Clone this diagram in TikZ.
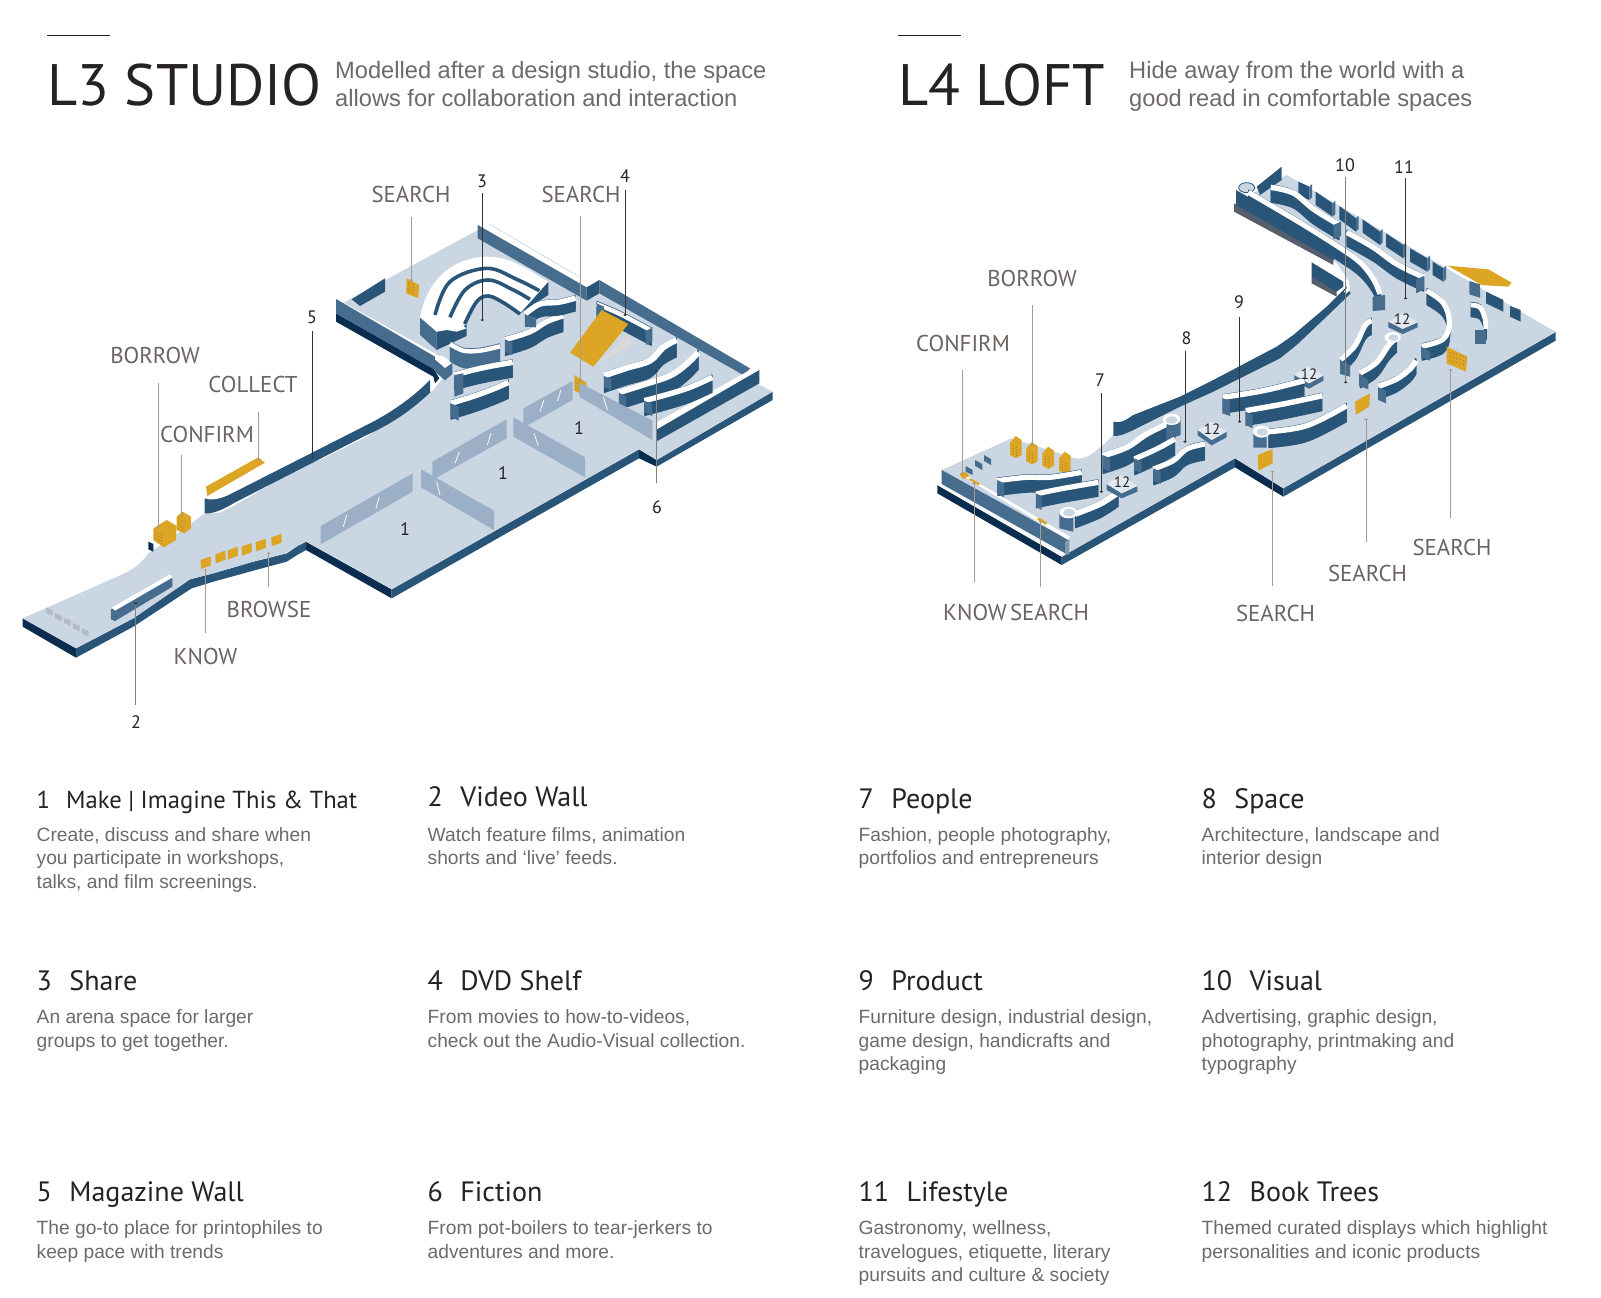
\documentclass[tikz,border=0pt]{standalone}
\usepackage{fontspec}
\setmainfont{Liberation Sans}
\newfontfamily\myr{PT Sans}
\usetikzlibrary{calc}
\definecolor{flr}{HTML}{CBD6E3}
\definecolor{navy}{HTML}{0A2D4F}
\definecolor{wallmid}{HTML}{285578}
\definecolor{walllt}{HTML}{466C8E}
\definecolor{gold}{HTML}{DCA624}
\definecolor{glass}{HTML}{9BB0C6}
\definecolor{labc}{HTML}{6B6461}
\definecolor{txtc}{HTML}{6E6A67}
\definecolor{inkc}{HTML}{262122}
\definecolor{dith}{HTML}{555F6B}
\definecolor{leadlt}{HTML}{A89A8E}
\definecolor{screenc}{HTML}{B2BAC2}
\tikzset{
 x=1pt,y=-1pt,
 plane/.style={fill=flr,draw=none},
 plinthtop/.style={fill=white!45!flr,draw=none},
 mid/.style={fill=wallmid,draw=none},
 lt/.style={fill=walllt,draw=none},
 nav/.style={fill=navy,draw=none},
 au/.style={fill=gold,draw=none},
 glasspane/.style={fill=glass,draw=none},
 tick/.style={draw=white!85!glass,line width=.9pt},
 lab/.style={font=\myr\fontsize{22.9}{25}\selectfont,text=labc,inner sep=0pt},
 numlab/.style={font=\myr\fontsize{18}{20}\selectfont,text=inkc,inner sep=0pt},
 numsm/.style={font=\myr\fontsize{15}{17}\selectfont,text=inkc,inner sep=0pt},
 title/.style={font=\myr\fontsize{58.5}{60}\selectfont,text=inkc,inner sep=0pt,anchor=base west},
 head/.style={font=\myr\fontsize{28}{32}\selectfont,text=inkc,inner sep=0pt,anchor=base west},
 headsm/.style={font=\myr\fontsize{24.6}{30}\selectfont,text=inkc,inner sep=0pt,anchor=base west},
 desc/.style={font=\fontsize{19.2}{23.4}\selectfont,text=txtc,inner sep=0pt,anchor=north west,align=left},
 subt/.style={font=\fontsize{23.65}{28}\selectfont,text=txtc,inner sep=0pt,anchor=north west,align=left},
 leaddk/.style={draw=black!80,line width=.7pt},
 leadlight/.style={draw=leadlt,line width=.8pt},
 rulel/.style={draw=inkc,line width=1pt},
}
% extruded curved wall: [face colour]{height}{top width}{points}
\newcommand\wallx[4][wallmid]{%
 \pgfmathsetmacro\hgt{#2+8}%
 \foreach \d in {0,3,...,\hgt}{\draw[#1,line width=1.6pt,shift={(0,\d)}] plot[smooth,tension=.6] coordinates{#4};}
 \draw[white,line width=#3*1.3pt,shift={(0,7)}] plot[smooth,tension=.6] coordinates{#4};}
\newcommand\lead[6]{% name,style,x,y1,y2,dot colour
 \coordinate (#1-a) at (#3,#4);\coordinate (#1-b) at (#3,#5);
 \draw[#2] (#1-a) -- (#1-b);
 \fill[#6] (#1-b) ellipse (5.4 and 3.3);}
\newcommand\hd[5]{\node[head] (#1) at (#2,#3) {#4\hspace{17.5pt}#5};}
\newcommand\ds[4]{\node[desc] (#1) at (#2,{#3-16.38}) {\strut #4};}
\newcommand\dotsgold[2]{\foreach \i in {0,1,2}{\foreach \j in {0,1,2,3}{\fill[black!70] ({#1+\i*8},{#2+\j*9+\i*3}) circle (1.1);}}}
\begin{document}
\begin{tikzpicture}
\useasboundingbox (0,0) rectangle (1601,1298);
\fill[white] (0,0) rectangle (1601,1298);
% ---------- titles ----------
\coordinate (r1a) at (47,36);\coordinate (r1b) at (110,36);\draw[rulel] (r1a)--(r1b);
\coordinate (r2a) at (898,36);\coordinate (r2b) at (961,36);\draw[rulel] (r2a)--(r2b);
\node[title] (t3) at (47,106) {L3 STUDIO};
\node[title] (t4) at (898,106) {L4 LOFT};
\node[subt] (s3) at (335,{78-19.6}) {\strut Modelled after a design studio, the space\\allows for collaboration and interaction};
\node[subt] (s4) at (1129,{78-19.6}) {\strut Hide away from the world with a\\good read in comfortable spaces};
% ---------- L3 map : corridor (zoom 1 frame) ----------
\begin{scope}[shift={(0,340)},scale=1/3]
 \fill[navy] (68,835)--(228,925)--(228,953)--(68,860)--cycle;
 \fill[wallmid] (228,925)--(400,835)--(570,718)--(640,700)--(760,665)--(860,640)--(915,603)--(915,630)--(860,665)--(760,692)--(640,725)--(575,745)--(400,860)--(228,953)--cycle;
 \fill[plane] (68,835)--(228,925)--(400,835)--(570,718)--(640,700)--(760,665)--(860,640)--(915,603)--(1000,650)--(1000,360)--(940,360)--(700,498)--(660,518)--(614,520)--(540,575)--(445,640) .. controls (420,675) and (400,690) .. (340,715)--cycle;
 \fill[navy] (445,605)--(460,612)--(460,635)--(445,628)--cycle;
 % video wall
 \fill[walllt] (333,808)--(517,712)--(517,740)--(345,843)--(333,838)--cycle;
 \fill[white] (335,803)--(510,703)--(518,712)--(345,812)--cycle;
 % floor screens
 \foreach \p in {(148,813),(175,829),(202,843),(229,859),(256,875)}{\fill[screenc] \p ++(-10,-10) -- ++(20,8) -- ++(0,16) -- ++(-20,-8) -- cycle;}
 % gold
 \fill[au] (618,440)--(775,352)--(795,368)--(622,468)--cycle;
 \fill[au] (460,565)--(500,540)--(530,558)--(528,600)--(492,622)--(460,600)--cycle;
 \fill[au] (530,530)--(548,515)--(573,530)--(573,565)--(553,580)--(530,570)--cycle;
 \foreach \p in {(618,665),(662,648),(699,636),(741,625),(783,612),(830,597)}{\fill[au] \p ++(-16,-5) -- ++(30,-11) -- ++(1,27) -- ++(-30,11) -- cycle;}
 \dotsgold{468}{578}\dotsgold{536}{540}
 % leaders
 \lead{dBorrow}{leadlight}{475}{128}{562}{leadlt}
 \lead{dConfirm}{leadlight}{545}{345}{525}{leadlt}
 \lead{dCollect}{leadlight}{776}{215}{360}{leadlt}
 \lead{d2}{draw=gray,line width=1pt}{407}{1095}{790}{black!80}
 \lead{dKnow}{leadlight}{616}{880}{690}{leadlt}
 \lead{dBrowse}{leadlight}{806}{740}{640}{leadlt}
\end{scope}
% ---------- L3 map : room (zoom 2 frame) ----------
\begin{scope}[shift={(300,200)},scale=1/3]
 \fill[navy] (18,1025)--(275,1168)--(275,1195)--(18,1050)--cycle;
 \fill[wallmid] (275,1168)--(1017,748)--(1017,775)--(275,1195)--cycle;
 \fill[navy] (1017,748)--(1070,780)--(1070,800)--(1017,775)--cycle;
 \fill[wallmid] (1070,780)--(1418,575)--(1418,600)--(1070,800)--cycle;
 \fill[wallmid] (0,1035)--(18,1025)--(18,1050)--(0,1060)--cycle;
 \fill[plane] (0,1035)--(18,1025)--(275,1168)--(1017,748)--(1070,780)--(1418,575)--(1378,555)--(1350,510)--(898,242)--(860,280)--(530,92)--(108,320)--(440,520)--(400,570)--(330,620)--(200,710)--(0,810)--cycle;
 % corridor wall band
 \begin{scope}[shift={(-900,420)}]
 \fill[wallmid] (614,475) .. controls (630,482) and (660,480) .. (700,458) -- (1100,255) .. controls (1180,215) and (1240,170) .. (1290,120) -- (1290,158) .. controls (1240,205) and (1180,250) .. (1100,285) -- (700,490) .. controls (660,515) and (630,522) .. (614,520) -- cycle;
 \end{scope}
 % back walls
 \fill[walllt] (533,75)--(860,262)--(860,302)--(533,115)--cycle;
 \fill[wallmid] (860,262)--(898,240)--(898,280)--(860,302)--cycle;
 \fill[walllt] (898,240)--(1350,505)--(1330,525)--(898,280)--cycle;
 \coordinate (pale1) at (568,72);\coordinate (pale2) at (840,232);
 \draw[flr,line width=.7pt] (pale1)--(pale2);
 % end wall
 \fill[white] (1068,668)--(1350,510)--(1378,510)--(1068,690)--cycle;
 \fill[wallmid] (1068,690)--(1378,510)--(1378,550)--(1068,725)--cycle;
 % short wall
 \fill[wallmid] (155,298)--(255,235)--(255,275)--(180,318)--cycle;
 % front wall of room
 \fill[navy] (108,340)--(400,505)--(418,535)--(405,550)--(400,530)--(108,365)--cycle;
 \fill[white] (108,295)--(125,305)--(440,480)--(405,490)--cycle;
 \fill[walllt] (108,297)--(405,470)--(405,510)--(108,340)--cycle;
 \fill[walllt] (405,478)--(435,505)--(457,488)--(457,522)--(435,541)--(405,515)--cycle;
 \fill[white] (405,478)--(425,466)--(457,488)--(435,503)--cycle;
 % arena
 \fill[walllt] (360,350)--(410,395)--(410,450)--(360,405)--cycle;
 \fill[wallmid] (410,395)--(500,375)--(500,408)--(410,450)--cycle;
 \fill[wallmid] (745,245)--(745,285)--(660,340)--(660,300)--cycle;
 \fill[white] (360,352) .. controls (375,270) and (430,175) .. (560,170) .. controls (640,170) and (690,215) .. (745,245) -- (660,340) .. controls (610,310) and (580,280) .. (550,290) .. controls (525,305) and (510,340) .. (490,378) -- (500,385) -- (470,395)--(440,390)--(410,395)--cycle;
 \draw[wallmid,line width=3.6pt] plot[smooth,tension=.6] coordinates{(405,345)(450,245)(560,205)(650,238)(718,272)};
 \draw[wallmid,line width=3.6pt] plot[smooth,tension=.6] coordinates{(450,352)(495,270)(565,240)(640,270)(690,298)};
 \draw[wallmid,line width=3.6pt] plot[smooth,tension=.6] coordinates{(494,372)(530,305)(565,288)(610,308)(660,342)};
 % curved shelves
 \wallx[walllt]{50}{3.4}{(450,425)(490,445)(540,445)(600,432)}
 \wallx{48}{4.2}{(615,412)(690,388)(740,358)(790,340)}
 \fill[walllt] (615,418)--(637,428)--(637,465)--(615,455)--cycle;
 \wallx{38}{4.2}{(676,335)(720,305)(775,300)(827,287)}
 \fill[walllt] (676,345)--(708,352)--(708,382)--(676,380)--cycle;
 \wallx{45}{4.2}{(463,518)(520,503)(570,492)(638,480)}
 \fill[walllt] (463,525)--(490,520)--(490,580)--(463,590)--cycle;
 \wallx{48}{4.2}{(452,603)(520,582)(580,560)(626,540)}
 \fill[walllt] (452,610)--(476,620)--(476,662)--(452,650)--cycle;
 \wallx[wallmid]{45}{3.4}{(890,305)(960,335)(1055,385)}
 \fill[walllt] (1035,395)--(1057,382)--(1057,425)--(1038,435)--cycle;
 \fill[walllt] (890,310)--(912,320)--(912,350)--(890,345)--cycle;
 \wallx{50}{4.6}{(912,520)(980,497)(1050,475)(1090,435)(1130,413)}
 \fill[walllt] (912,528)--(934,538)--(934,572)--(912,560)--cycle;
 \wallx{50}{4.6}{(957,570)(1030,547)(1110,520)(1160,485)(1195,450)}
 \fill[walllt] (957,578)--(978,590)--(978,622)--(957,610)--cycle;
 \wallx{45}{4.2}{(1033,595)(1100,577)(1170,555)(1237,525)}
 \fill[walllt] (1033,602)--(1056,612)--(1056,648)--(1033,635)--cycle;
 % DVD mat
 \fill[white!70!gray] (985,405)--(1000,432)--(905,485)--(885,495)--cycle;
 \fill[au] (905,330)--(985,372)--(880,500)--(810,458)--cycle;
 % gold search
 \fill[au] (320,235)--(357,255)--(355,295)--(318,280)--cycle;
 \fill[au] (823,525)--(860,548)--(860,590)--(823,572)--cycle;
 \dotsgold{325}{248}\dotsgold{828}{540}
 % glass
 \fill[glasspane] (62,978)--(338,820)--(338,875)--(62,1033)--cycle;
 \draw[tick] (130,980)--(140,945);\draw[tick] (228,925)--(238,890);
 \fill[glasspane] (363,808)--(582,932)--(582,990)--(363,862)--cycle;
 \draw[tick] (410,845)--(420,885);
 \fill[glasspane] (397,785)--(620,658)--(620,715)--(397,840)--cycle;
 \draw[tick] (465,790)--(478,755);\draw[tick] (562,735)--(573,700);
 \fill[glasspane] (640,652)--(855,772)--(855,832)--(640,710)--cycle;
 \draw[tick] (702,700)--(715,737);
 \fill[glasspane] (670,625)--(818,543)--(818,600)--(670,683)--cycle;
 \draw[tick] (720,635)--(732,600);\draw[tick] (772,603)--(783,570);
 \fill[glasspane] (838,548)--(1057,662)--(1057,720)--(838,590)--cycle;
 \draw[tick] (910,590)--(922,630);
 % leaders
 \lead{dSearchA}{leadlight}{334}{52}{240}{leadlt}
 \lead{d3}{leaddk}{547}{-21}{360}{black!80}
 \lead{dSearchB}{leadlight}{841}{48}{540}{leadlt}
 \lead{d4}{leaddk}{975}{-30}{345}{black!80}
 \lead{d5}{leaddk}{38}{392}{772}{black!80}
 \lead{d6}{draw=gray,line width=.9pt}{1068}{850}{515}{black!80}
\end{scope}
% ---------- L4 map : left part (zoom 3 frame) ----------
\begin{scope}[shift={(900,360)},scale=1/3]
 \fill[wallmid] (485,590)--(1005,295)--(1005,322)--(485,615)--cycle;
 \fill[navy] (1005,295)--(1150,385)--(1150,410)--(1005,322)--cycle;
 \fill[wallmid] (1150,385)--(1967,-84)--(1967,-58)--(1150,410)--cycle;
 \fill[plane] (125,330)--(335,235)--(510,290) .. controls (545,305) and (570,295) .. (640,225) -- (1190,-60) -- (1350,-210) -- (1345,-240) -- (1310,-290) -- (1060,-500) -- (1160,-555) -- (1967,-84) -- (1150,385) -- (1005,295) -- (485,590) -- cycle;
 % front wall
 \fill[navy] (112,375)--(485,590)--(485,615)--(112,400)--cycle;
 \fill[white!80!flr] (112,375)--(125,368)--(500,582)--(485,590)--cycle;
 \fill[walllt] (125,330)--(505,540)--(505,585)--(125,372)--cycle;
 \fill[white] (175,340)--(195,345)--(510,530)--(505,540)--cycle;
 \fill[walllt!70!white] (495,545)--(508,538)--(508,582)--(495,586)--cycle;
 % small blocks
 \fill[walllt] (197,318)--(218,330)--(218,345)--(197,335)--cycle;
 \fill[walllt] (225,300)--(247,312)--(247,330)--(225,318)--cycle;
 \fill[walllt] (252,285)--(273,297)--(273,315)--(252,303)--cycle;
 % gold boxes
 \foreach \dx/\dy in {0/0,48/18,97/32,147/47}{
  \fill[au,shift={(\dx,\dy)}] (330,248)--(347,228)--(365,240)--(365,285)--(348,295)--(330,285)--cycle;
  \foreach \j in {0,1,2,3}{\fill[black!70,shift={(\dx,\dy)}] (340,258+8*\j) circle (1.1);\fill[black!70,shift={(\dx,\dy)}] (350,262+8*\j) circle (1.1);}
 }
 % marks
 \fill[au] (178,342)--(195,335)--(208,347)--(190,358)--cycle;
 \fill[au] (205,358)--(212,355)--(240,370)--(236,376)--cycle;
 \fill[au] (410,478)--(418,473)--(442,488)--(436,494)--cycle;
 % shelves
 \wallx{45}{4}{(292,355)(380,345)(450,345)(545,330)}
 \fill[walllt] (292,360)--(312,370)--(312,412)--(292,402)--cycle;
 \wallx{42}{4}{(408,395)(480,380)(595,360)}
 \fill[walllt] (408,400)--(425,408)--(425,450)--(408,440)--cycle;
 \wallx{42}{4.5}{(525,455)(600,425)(655,390)}
 \fill[walllt] (478,458)--(520,470)--(520,515)--(478,505)--cycle;
 \fill[white] (505,458) ellipse (27 and 17);\fill[plane] (507,458) ellipse (18 and 11);
 % plinths
 \fill[walllt] (620,372)--(665,400)--(712,378)--(712,395)--(665,415)--(620,390)--cycle;
 \fill[plinthtop] (620,372)--(665,345)--(712,378)--(665,400)--cycle;
 \fill[walllt] (893,210)--(935,240)--(980,215)--(980,232)--(935,256)--(893,226)--cycle;
 \fill[plinthtop] (893,210)--(935,185)--(980,215)--(935,240)--cycle;
 \wallx{52}{4.5}{(608,280)(680,255)(740,215)(800,185)}
 \fill[walllt] (608,285)--(630,295)--(630,335)--(608,325)--cycle;
 \fill[walllt] (800,190)--(842,170)--(842,225)--(800,240)--cycle;
 \fill[white] (815,178) ellipse (27 and 17);\fill[plane] (815,180) ellipse (18 and 11);
 \wallx{48}{4}{(703,290)(770,260)(825,230)}
 \fill[walllt] (703,295)--(725,305)--(725,340)--(703,330)--cycle;
 \wallx{48}{4}{(760,320)(820,295)(860,260)(915,245)}
 \fill[walllt] (760,325)--(782,335)--(782,372)--(760,360)--cycle;
 % leaders
 \lead{dBorrowB}{leadlight}{396}{-166}{255}{leadlt}
 \lead{dConfirmB}{leadlight}{186}{30}{340}{leadlt}
 \lead{dKnowB}{leadlight}{222}{667}{370}{leadlt}
 \lead{dSearchC}{leadlight}{422}{682}{485}{leadlt}
 \lead{d7}{leaddk}{604}{100}{395}{black!80}
 \lead{d8}{leaddk}{855}{-28}{245}{black!80}
\end{scope}
% ---------- L4 map : right part (zoom 4 frame) ----------
\begin{scope}[shift={(1180,150)},scale=1/3]
 % band wall
 \fill[wallmid] (-200,815) .. controls (-175,822) and (-160,808) .. (-140,795) -- (0,740)--(100,690)--(290,590)--(340,555)--(440,470)--(500,410)--(512,430)--(450,490)--(350,585)--(300,625)--(100,725)--(0,770)--(-140,840) .. controls (-165,852) and (-185,860) .. (-200,858) -- cycle;
 % back partitions
 \foreach \a/\b/\c/\d in {355/95/388/110,407/125/458/160,478/168/528/205,548/208/600/245,618/250/670/285,690/295/742/325,758/335/790/355}{
  \fill[mid] (\a,\b)--(\c,\d)--(\c,\d+40)--(\a,\b+40)--cycle;
  \fill[walllt] (\c,\d)--(\c+8,\d-8)--(\c+8,\d+32)--(\c,\d+40)--cycle;}
 % corner
 \fill[wallmid] (230,110)--(305,50)--(305,90)--(240,135)--cycle;
 % long wall
 \fill[dith] (162,160)--(460,325)--(460,345)--(162,185)--cycle;
 \fill[wallmid] (168,120)--(470,292)--(470,320)--(460,330)--(168,165)--cycle;
 \fill[plane] (200,113) ellipse (24 and 15);
 \draw[wallmid,line width=.8pt] (200,113) ellipse (24 and 15);
 \wallx{42}{4}{(205,120)(350,205)(470,280)(540,330)(580,380)(600,425)}
 \fill[walllt] (578,440)--(615,435)--(615,480)--(578,483)--cycle;
 \wallx{45}{4.2}{(272,105)(340,122)(400,170)(478,218)}
 \fill[walllt] (460,225)--(483,215)--(483,258)--(460,268)--cycle;
 \wallx{40}{4.2}{(500,240)(580,285)(650,335)(732,375)}
 \fill[walllt] (708,388)--(732,378)--(732,418)--(708,430)--cycle;
 % lower stub wall
 \fill[dith] (395,380)--(470,420)--(470,440)--(395,400)--cycle;
 \fill[wallmid] (395,337)--(490,395)--(490,410)--(470,425)--(395,380)--cycle;
 \draw[white,line width=3pt] (490,390) .. controls (510,400) and (510,420) .. (495,428);
 % gold roof mat
 \fill[au] (803,347)--(925,358)--(995,398)--(985,410)--(905,405)--cycle;
 % right partitions
 \fill[walllt] (868,393)--(900,403)--(900,443)--(868,433)--cycle;
 \fill[mid] (918,425)--(970,450)--(970,485)--(918,460)--cycle;
 \fill[mid] (990,468)--(1022,480)--(1022,515)--(990,500)--cycle;
 \wallx{35}{3.6}{(872,458)(900,465)(915,500)(917,530)}
 \fill[walllt] (885,540)--(918,540)--(918,582)--(885,582)--cycle;
 % centre shelves
 \wallx{40}{4}{(740,415)(790,452)(808,510)(790,560)(725,582)}
 \fill[walllt] (723,590)--(750,605)--(750,632)--(723,620)--cycle;
 \wallx{42}{4}{(482,622)(525,580)(555,520)(575,505)}
 \fill[walllt] (480,632)--(510,645)--(510,680)--(480,672)--cycle;
 \wallx{45}{4.2}{(540,662)(590,630)(625,580)(650,555)}
 \fill[walllt] (537,672)--(565,690)--(565,718)--(537,708)--cycle;
 \fill[white] (638,562) ellipse (24 and 16);\fill[plane] (640,563) ellipse (15 and 10);
 \wallx{38}{4.2}{(595,702)(650,680)(690,650)(708,625)}
 \fill[walllt] (595,712)--(618,722)--(618,760)--(595,750)--cycle;
 % plinths
 \fill[walllt] (625,515)--(668,535)--(713,517)--(713,532)--(668,552)--(625,532)--cycle;
 \fill[plinthtop] (625,515)--(668,490)--(713,517)--(668,537)--cycle;
 \fill[walllt] (343,675)--(387,700)--(430,677)--(430,692)--(387,716)--(343,692)--cycle;
 \fill[plinthtop] (343,675)--(387,650)--(430,677)--(387,700)--cycle;
 % lower-left shelves
 \wallx{48}{4.2}{(128,735)(250,715)(373,685)}
 \fill[walllt] (128,745)--(150,752)--(150,798)--(128,790)--cycle;
 \wallx{45}{4.2}{(197,775)(310,755)(427,730)}
 \fill[walllt] (197,785)--(218,795)--(218,835)--(197,825)--cycle;
 \wallx{48}{4.2}{(265,838)(380,820)(500,760)}
 \fill[walllt] (220,845)--(260,848)--(260,893)--(220,893)--cycle;
 \fill[white] (245,845) ellipse (26 and 18);\fill[plane] (247,846) ellipse (17 and 11);
 % gold
 \fill[au] (525,755)--(570,730)--(568,770)--(527,795)--cycle;
 \fill[au] (800,590)--(862,620)--(858,665)--(800,640)--cycle;
 \fill[au] (233,915)--(278,897)--(278,940)--(235,962)--cycle;
 \foreach \i in {0,1,2,3,4}{\foreach \j in {0,1,2}{\fill[black!70] (810+\i*10,608+\j*12+\i*3) circle (1.1);}}
 % leaders
 \lead{d9}{leaddk}{179}{500}{815}{black!80}
 \lead{d10}{draw=gray,line width=.9pt}{497}{80}{697}{black!80}
 \lead{d11}{leaddk}{677}{85}{445}{black!80}
 \lead{dSearchD}{leadlight}{277}{1307}{965}{leadlt}
 \lead{dSearchE}{leadlight}{558}{1175}{808}{leadlt}
 \lead{dSearchF}{leadlight}{812}{1105}{660}{leadlt}
\end{scope}
% ---------- L3 labels ----------
\node[lab] (lBorrow) at (155,355) {BORROW};
\node[lab] (lCollect) at (253,384) {COLLECT};
\node[lab] (lConfirm) at (207,434) {CONFIRM};
\node[lab] (lBrowse) at (269,609) {BROWSE};
\node[lab] (lKnow) at (205.5,656) {KNOW};
\node[lab] (lSearchA) at (411,194) {SEARCH};
\node[lab] (lSearchB) at (581,194) {SEARCH};
\node[numlab] (n2) at (136,722.5) {2};
\node[numlab] (n3) at (482,181) {3};
\node[numlab] (n4) at (625,176) {4};
\node[numlab] (n5) at (312,317) {5};
\node[numlab] (n6) at (657,507) {6};
\node[numlab] (n1a) at (405,529) {1};
\node[numlab] (n1b) at (503,473) {1};
\node[numlab] (n1c) at (579,428) {1};
% ---------- L4 labels ----------
\node[lab] (lBorrowB) at (1032,278) {BORROW};
\node[lab] (lConfirmB) at (963,343.5) {CONFIRM};
\node[lab] (lKnowB) at (975,612) {KNOW};
\node[lab] (lSearchC) at (1049.5,612) {SEARCH};
\node[lab] (lSearchD) at (1275.5,613) {SEARCH};
\node[lab] (lSearchE) at (1367.5,573.5) {SEARCH};
\node[lab] (lSearchF) at (1452,547) {SEARCH};
\node[numlab] (n7) at (1100,380) {7};
\node[numlab] (n8) at (1186.5,338) {8};
\node[numlab] (n9) at (1239,302.5) {9};
\node[numlab] (n10) at (1345,165) {10};
\node[numlab] (n11) at (1404,167) {11};
\node[numsm] (t12a) at (1122,482) {12};
\node[numsm] (t12b) at (1212,429) {12};
\node[numsm] (t12c) at (1309,374) {12};
\node[numsm] (t12d) at (1402,319) {12};
% ---------- legend ----------
\node[headsm] (h1) at (36.5,808) {1\hspace{16pt}Make | Imagine This \& That};
\ds{p1}{36.5}{841}{Create, discuss and share when\\you participate in workshops,\\talks, and film screenings.}
\hd{h2}{427.5}{806}{2}{Video Wall}
\ds{p2}{427.5}{841}{Watch feature films, animation\\shorts and ‘live’ feeds.}
\hd{h3}{36.5}{990}{3}{Share}
\ds{p3}{36.5}{1023.5}{An arena space for larger\\groups to get together.}
\hd{h4}{427.5}{990}{4}{DVD Shelf}
\ds{p4}{427.5}{1023.5}{From movies to how-to-videos,\\check out the Audio-Visual collection.}
\hd{h5}{36.5}{1201}{5}{Magazine Wall}
\ds{p5}{36.5}{1234.5}{The go-to place for printophiles to\\keep pace with trends}
\hd{h6}{427.5}{1201}{6}{Fiction}
\ds{p6}{427.5}{1234.5}{From pot-boilers to tear-jerkers to\\adventures and more.}
\hd{h7}{858.5}{808}{7}{People}
\ds{p7}{858.5}{841}{Fashion, people photography,\\portfolios and entrepreneurs}
\hd{h8}{1201.5}{808}{8}{Space}
\ds{p8}{1201.5}{841}{Architecture, landscape and\\interior design}
\hd{h9}{858.5}{990}{9}{Product}
\ds{p9}{858.5}{1023.5}{Furniture design, industrial design,\\game design, handicrafts and\\packaging}
\hd{h10}{1201.5}{990}{10}{Visual}
\ds{p10}{1201.5}{1023.5}{Advertising, graphic design,\\photography, printmaking and\\typography}
\hd{h11}{858.5}{1201}{11}{Lifestyle}
\ds{p11}{858.5}{1234.5}{Gastronomy, wellness,\\travelogues, etiquette, literary\\pursuits and culture \& society}
\hd{h12}{1201.5}{1201}{12}{Book Trees}
\ds{p12}{1201.5}{1234.5}{Themed curated displays which highlight\\personalities and iconic products}
\end{tikzpicture}
\end{document}
